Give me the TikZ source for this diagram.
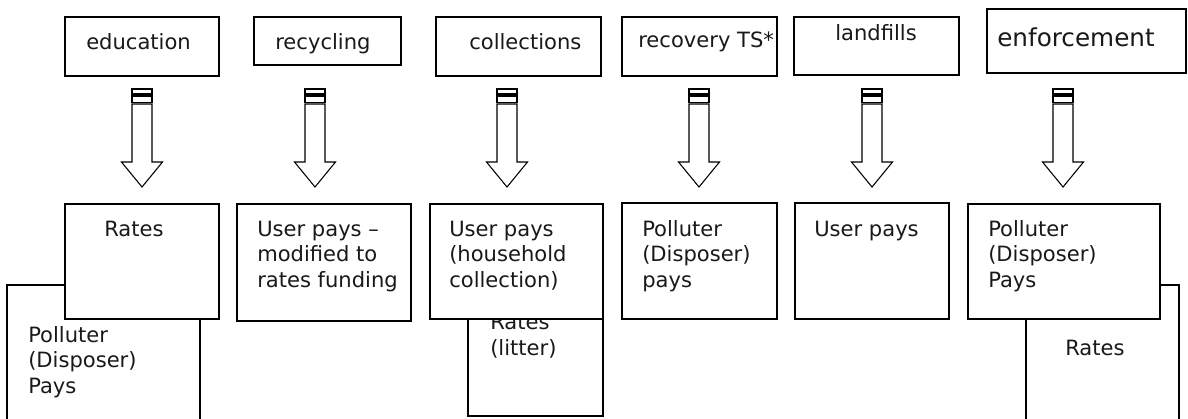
\documentclass[tikz,border=0pt]{standalone}
\usepackage{fontspec}
\setmainfont{DejaVu Sans}
\usetikzlibrary{fit}

\begin{document}
\begin{tikzpicture}[
    x=0.75pt, y=-0.75pt,
    box/.style={rectangle, draw=black, line width=1.4pt, fill=white,
                inner sep=0pt},
    backbox/.style={box, line width=1.1pt},
    txt/.style={anchor=base west, inner sep=0pt, align=left,
                font=\fontsize{15.8}{19.1}\selectfont, text=black!90},
    stripedarrow/.pic={
        \draw[line width=0.8pt] (-10,89) rectangle (10,94);
        \draw[line width=0.8pt] (-10,96) rectangle (10,102.5);
        \draw[line width=0.8pt] (-10,104) -- (-10,162) -- (-20.5,162)
            -- (0,187) -- (20.5,162) -- (10,162) -- (10,104) -- cycle;
    }
]

\useasboundingbox (0,0) rectangle (1188,418);
\fill[white] (0,0) rectangle (1188,418);
\clip (0,0) rectangle (1188,418);

% Activities
\node[box, fit={(65,17) (219,76)}] (edu) {};
\node[box, fit={(254,17) (401,65)}] (rec) {};
\node[box, fit={(436,17) (601,76)}] (col) {};
\node[box, fit={(622,17) (777,76)}] (rts) {};
\node[box, fit={(794,17) (959,75)}] (lnd) {};
\node[box, fit={(987,9) (1186,73)}] (enf) {};

\node[txt] (edu-t) at (86,49) {education};
\node[txt] (rec-t) at (275,49) {recycling};
\node[txt] (col-t) at (469,49) {collections};
\node[txt] (rts-t) at (638,47.5) {recovery TS*};
\node[txt] (lnd-t) at (835,40) {landfills};
\node[txt, font=\fontsize{18.5}{22}\selectfont] (enf-t) at (997,46) {enforcement};

% Arrows
\pic at (142,0) {stripedarrow};
\pic at (315,0) {stripedarrow};
\pic at (507,0) {stripedarrow};
\pic at (699,0) {stripedarrow};
\pic at (872,0) {stripedarrow};
\pic at (1063,0) {stripedarrow};

% Secondary funding (behind), text placed at its last baseline
\node[backbox, fit={(7,285) (200,440)}] (poll1) {};
\node[txt] (poll1-t) at (28,393) {Polluter\\(Disposer)\\Pays};
\node[backbox, fit={(468,300) (603,416)}] (litter) {};
\node[txt] (litter-t) at (490,355) {Rates\\(litter)};
\node[backbox, fit={(1026,285) (1179,440)}] (rates2) {};
\node[txt] (rates2-t) at (1065,355) {Rates};

% Funding
\node[box, fit={(65,204) (219,319)}] (rates1) {};
\node[box, fit={(237,204) (411,321)}] (userm) {};
\node[box, fit={(430,204) (603,319)}] (userh) {};
\node[box, fit={(622,203) (777,319)}] (pollr) {};
\node[box, fit={(795,203) (949,319)}] (userl) {};
\node[box, fit={(968,204) (1160,319)}] (polle) {};

\node[txt] (rates1-t) at (104,236) {Rates};
\node[txt] (userm-t) at (257,287) {User pays –\\modified to\\rates funding};
\node[txt] (userh-t) at (449,287) {User pays\\(household\\collection)};
\node[txt] (pollr-t) at (642,287) {Polluter\\(Disposer)\\pays};
\node[txt] (userl-t) at (814,236) {User pays};
\node[txt] (polle-t) at (988,287) {Polluter\\(Disposer)\\Pays};

\end{tikzpicture}
\end{document}
